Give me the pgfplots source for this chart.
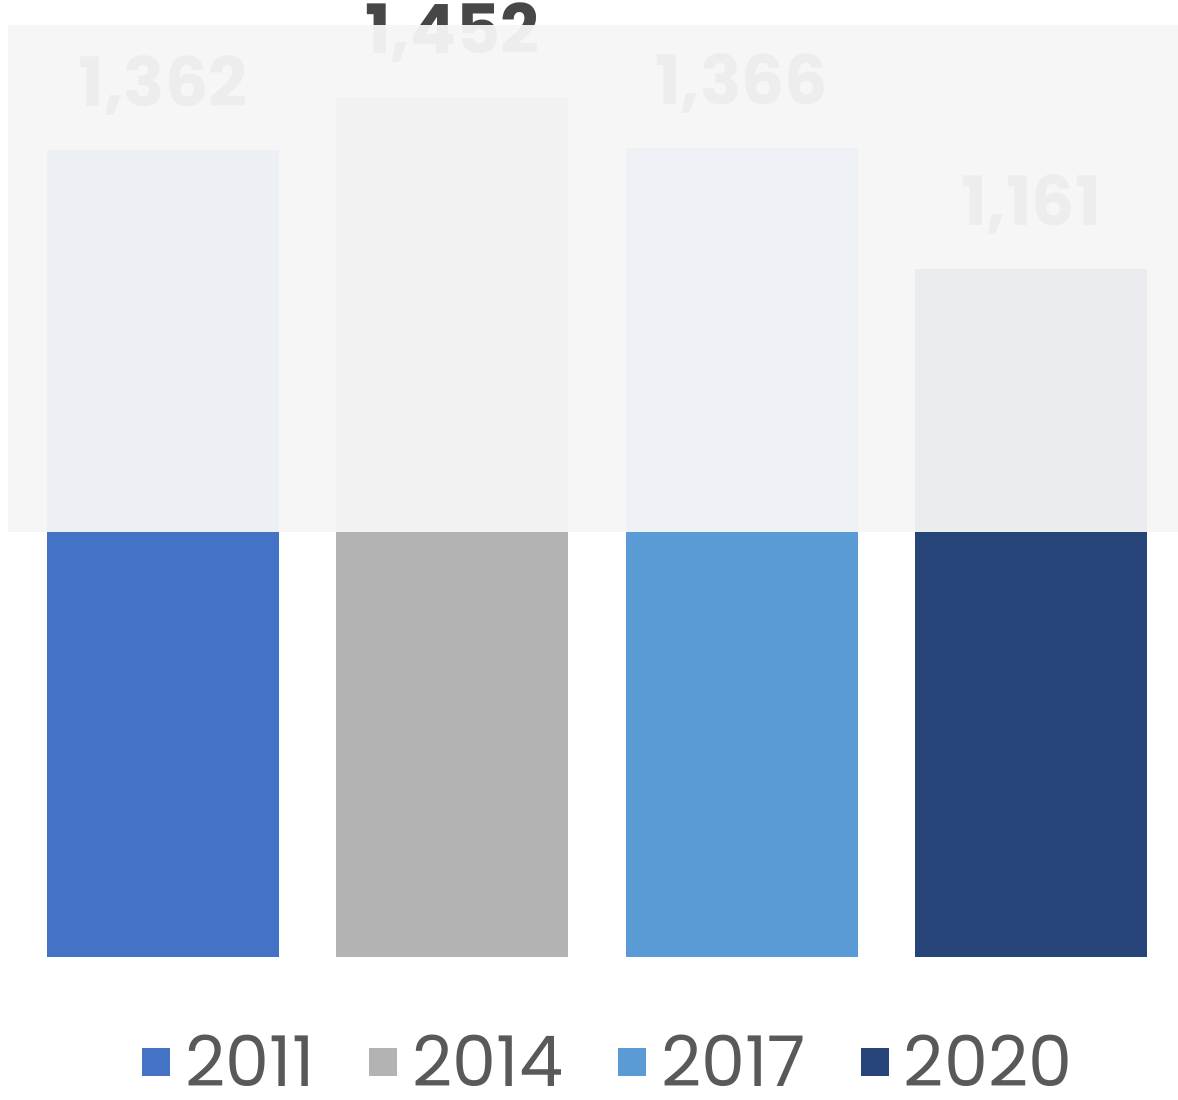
\documentclass[border=0pt]{standalone}
\usepackage{pgfplots}
\pgfplotsset{compat=1.18}
\usepackage{fontspec}
\setmainfont{Poppins}
\definecolor{c2011}{HTML}{4472C4}
\definecolor{c2014}{HTML}{B3B3B3}
\definecolor{c2017}{HTML}{5B9BD5}
\definecolor{c2020}{HTML}{264478}
\definecolor{txt}{HTML}{595959}
\definecolor{veil}{RGB}{246,246,247}
\begin{document}
\begin{tikzpicture}
\begin{axis}[
  scale only axis, width=589pt, height=478.5pt,
  xmin=-0.5634, xmax=3.508, ymin=0, ymax=1615,
  hide axis, clip=false,
  ybar, bar width=116pt, bar shift=0pt,
  /pgf/number format/.cd, 1000 sep={,}, assume math mode=true, /pgfplots/.cd,
  nodes near coords,
  every node near coord/.append style={font=\fontsize{34}{38}\selectfont\bfseries, text=txt!80!black, anchor=south, inner sep=0pt, yshift=17pt},
  legend columns=-1,
  legend image code/.code={\fill[#1, draw=none] (0pt,-7pt) rectangle (14pt,7pt);},
  legend style={at={(0.516,-0.11)}, anchor=center, draw=none, fill=none,
    font=\fontsize{35}{38}\selectfont, text=txt,
    nodes={inner sep=0.5pt},
    /tikz/every even column/.append style={column sep=27pt},
    /tikz/every odd column/.append style={column sep=7pt}},
]
\addplot[fill=c2011, draw=none] coordinates {(0,1362)};
\addplot[fill=c2014, draw=none] coordinates {(1,1452)};
\addplot[fill=c2017, draw=none] coordinates {(2,1366)};
\addplot[fill=c2020, draw=none] coordinates {(3,1161)};
\legend{2011,2014,2017,2020}
\coordinate (ovA) at (axis cs:-0.536,717);
\coordinate (ovB) at (axis cs:3.508,1573);
\end{axis}
\fill[veil, opacity=0.95] (ovA) rectangle (ovB);
\pgfresetboundingbox
\useasboundingbox ([yshift=-71.5pt]current axis.south west) rectangle (current axis.north east);
\end{tikzpicture}
\end{document}
